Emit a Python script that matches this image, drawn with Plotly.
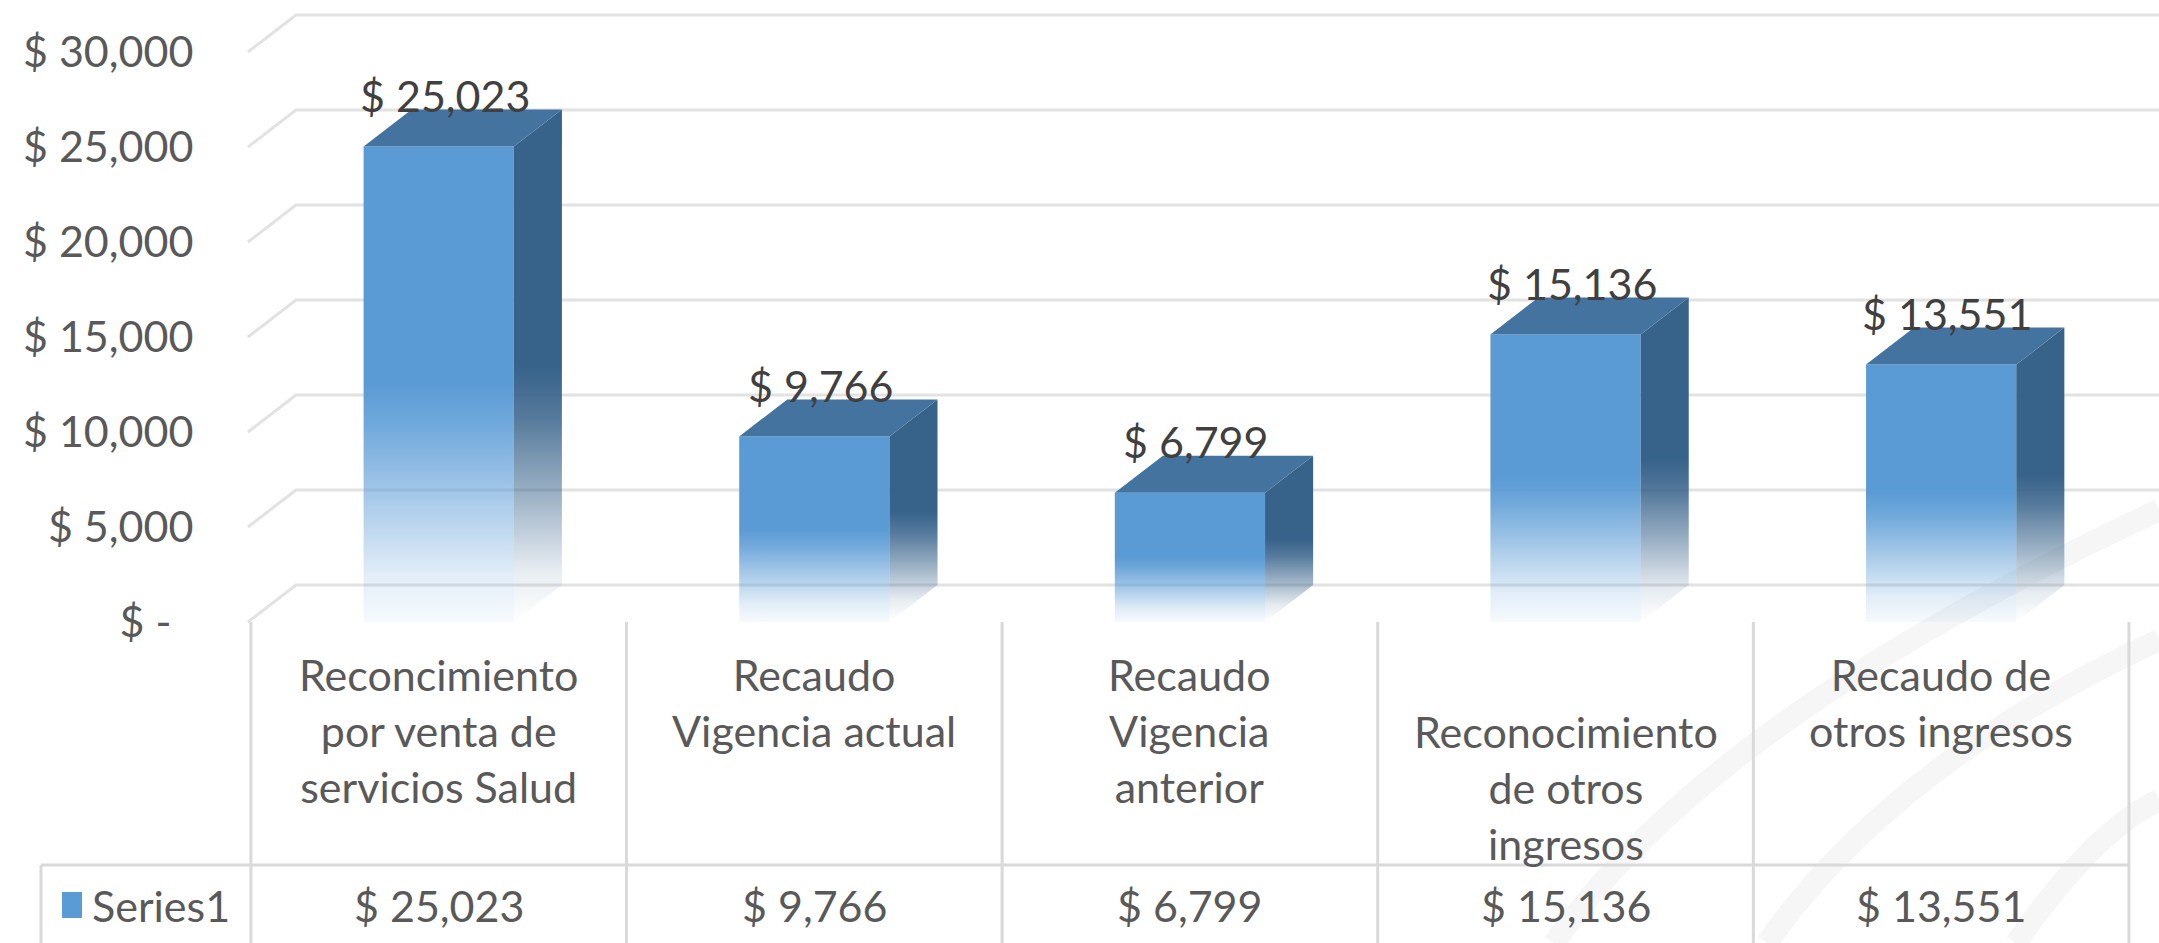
import plotly.graph_objects as go

# ---- data -------------------------------------------------------------
category_labels = [
    "Reconcimiento<br>por venta de<br>servicios Salud",
    "Recaudo<br>Vigencia actual",
    "Recaudo<br>Vigencia<br>anterior",
    "Reconocimiento<br>de otros<br>ingresos",
    "Recaudo de<br>otros ingresos",
]
label_line_offset = [0, 0, 0, 1, 0]          # lines pushed down inside the cell
values = [25023, 9766, 6799, 15136, 13551]
series_name = "Series1"
y_ticks = [0, 5000, 10000, 15000, 20000, 25000, 30000]
y_tick_labels = ["$ -\u00a0\u00a0", "$ 5,000", "$ 10,000", "$ 15,000",
                 "$ 20,000", "$ 25,000", "$ 30,000"]

# ---- geometry / style -------------------------------------------------
W, H = 2159, 943
X_RANGE = [-1.168, 4.580]
Y_RANGE = [-16895, 32737]
BAR_W = 0.40          # front face width, in category units
DX = 0.128            # depth shift to the right, in category units
DY = 1947             # depth shift upwards, in value units

FONT = "Lato"
TXT = "#595959"
FRONT = "#5B9BD5"
SIDE_RGB = "55,98,138"
FRONT_RGB = "91,155,213"
TOP = "#44739F"
GRID = "#E2E2E2"
TABLE = "#D9D9D9"


def px_x(px):
    return X_RANGE[0] + px / W * (X_RANGE[1] - X_RANGE[0])


def py_paper(py):
    return 1 - py / H


fig = go.Figure()

# back wall gridlines + left wall diagonals
gx, gy = [], []
for t in y_ticks:
    gx += [-0.508, -0.508 + DX, X_RANGE[1], None]
    gy += [t, t + DY, t + DY, None]
fig.add_trace(go.Scatter(x=gx, y=gy, mode="lines",
                         line=dict(color=GRID, width=3),
                         hoverinfo="skip", showlegend=False))

front_scale = [
    [0.0, f"rgba({FRONT_RGB},0.05)"],
    [0.10, f"rgba({FRONT_RGB},0.18)"],
    [0.28, f"rgba({FRONT_RGB},0.58)"],
    [0.42, f"rgba({FRONT_RGB},0.88)"],
    [0.50, f"rgba({FRONT_RGB},1)"],
    [1.0, f"rgba({FRONT_RGB},1)"],
]
side_scale = [
    [0.0, f"rgba({SIDE_RGB},0.0)"],
    [0.10, f"rgba({SIDE_RGB},0.12)"],
    [0.25, f"rgba({SIDE_RGB},0.5)"],
    [0.40, f"rgba({SIDE_RGB},0.85)"],
    [0.50, f"rgba({SIDE_RGB},1)"],
    [1.0, f"rgba({SIDE_RGB},1)"],
]

for i, v in enumerate(values):
    x0, x1 = i - BAR_W / 2, i + BAR_W / 2
    # front face
    fig.add_trace(go.Scatter(
        x=[x0, x1, x1, x0, x0], y=[0, 0, v, v, 0],
        mode="lines", fill="toself", line=dict(width=0, color=FRONT),
        fillgradient=dict(type="vertical", colorscale=front_scale),
        hoverinfo="skip", showlegend=False))
    # right side face
    fig.add_trace(go.Scatter(
        x=[x1, x1 + DX, x1 + DX, x1, x1], y=[0, DY, v + DY, v, 0],
        mode="lines", fill="toself", line=dict(width=0, color=TOP),
        fillgradient=dict(type="vertical", colorscale=side_scale),
        hoverinfo="skip", showlegend=False))
    # top face
    fig.add_trace(go.Scatter(
        x=[x0, x1, x1 + DX, x0 + DX, x0], y=[v, v, v + DY, v + DY, v],
        mode="lines", fill="toself", fillcolor=TOP,
        line=dict(width=0, color=TOP),
        hoverinfo="skip", showlegend=False))
    # value label above the bar
    fig.add_annotation(x=i, y=v + DY, xref="x", yref="y", text=f"$ {v:,}",
                       showarrow=False, xshift=6, yshift=14, yanchor="middle",
                       font=dict(family=FONT, size=43, color="#404040"))

shapes = []

# faint decorative arcs in the lower right
arcs = [((1554, 943), (1711, 719), (2159, 510)),
        ((1767, 943), (1892, 764), (2159, 640)),
        ((2016, 943), (2095, 830), (2159, 800))]
for (ax0, ay0), (cx, cy), (ax1, ay1) in arcs:
    path = (f"M {ax0/W} {py_paper(ay0)} Q {cx/W} {py_paper(cy)} "
            f"{ax1/W} {py_paper(ay1)}")
    shapes.append(dict(type="path", path=path, xref="paper", yref="paper",
                       line=dict(color="#F6F6F6", width=22), layer="below"))

# data table grid
for i in range(len(values) + 1):
    shapes.append(dict(type="line", xref="x", yref="paper",
                       x0=i - 0.5, x1=i - 0.5,
                       y0=py_paper(622), y1=0,
                       line=dict(color=TABLE, width=3)))
shapes.append(dict(type="line", xref="x", yref="paper",
                   x0=px_x(41), x1=len(values) - 0.5,
                   y0=py_paper(865), y1=py_paper(865),
                   line=dict(color=TABLE, width=3)))
shapes.append(dict(type="line", xref="x", yref="paper",
                   x0=px_x(41), x1=px_x(41),
                   y0=py_paper(865), y1=0,
                   line=dict(color=TABLE, width=3)))
# legend key of the series row
shapes.append(dict(type="rect", xref="paper", yref="paper",
                   x0=62 / W, x1=82 / W, y0=py_paper(918), y1=py_paper(892),
                   fillcolor=FRONT, line=dict(width=0)))

# category labels and table values
for i, lab in enumerate(category_labels):
    fig.add_annotation(x=i, y=py_paper(647 + 57 * label_line_offset[i]),
                       xref="x", yref="paper", yanchor="top",
                       text=lab, showarrow=False, align="center",
                       font=dict(family=FONT, size=43, color=TXT))
    fig.add_annotation(x=i, y=py_paper(905), xref="x", yref="paper",
                       yanchor="middle",
                       text=f"$ {values[i]:,}", showarrow=False,
                       font=dict(family=FONT, size=43, color=TXT))
fig.add_annotation(x=90 / W, y=py_paper(905), xref="paper", yref="paper",
                   xanchor="left", yanchor="middle", text=series_name,
                   showarrow=False,
                   font=dict(family=FONT, size=43, color=TXT))

fig.update_layout(
    width=W, height=H,
    margin=dict(l=0, r=0, t=0, b=0),
    paper_bgcolor="white", plot_bgcolor="rgba(0,0,0,0)",
    shapes=shapes, showlegend=False,
    xaxis=dict(range=X_RANGE, domain=[0, 1], visible=False, fixedrange=True),
    yaxis=dict(range=Y_RANGE, domain=[0, 1], anchor="free",
               position=248 / W, showgrid=False, zeroline=False,
               showline=False, tickvals=y_ticks, ticktext=y_tick_labels,
               ticks="outside", ticklen=46, tickcolor="rgba(0,0,0,0)",
               tickfont=dict(family=FONT, size=43, color=TXT),
               fixedrange=True),
)

fig.write_html("out.html")
